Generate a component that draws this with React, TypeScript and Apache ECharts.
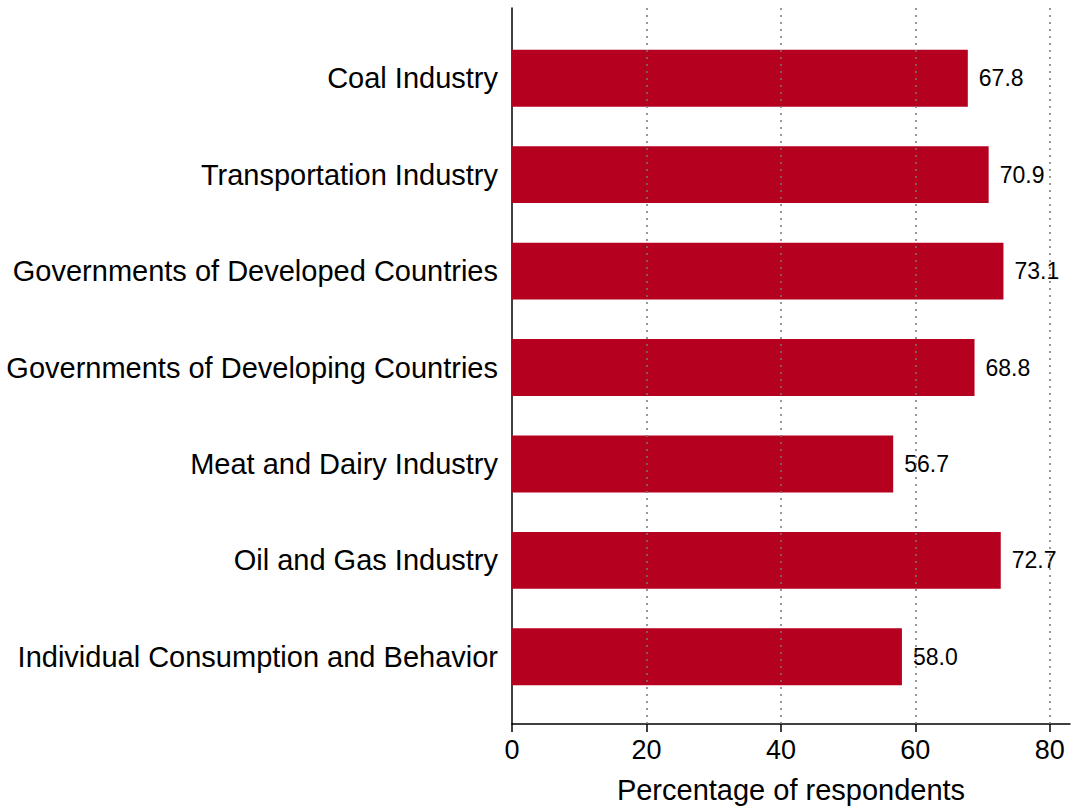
import React, { useEffect, useRef } from "react";
import * as echarts from "echarts";

const categories = [
  "Coal Industry",
  "Transportation Industry",
  "Governments of Developed Countries",
  "Governments of Developing Countries",
  "Meat and Dairy Industry",
  "Oil and Gas Industry",
  "Individual Consumption and Behavior",
];
const values = [67.8, 70.9, 73.1, 68.8, 56.7, 72.7, 58.0];
const tickValues = [0, 20, 40, 60, 80];
const gridValues = [20, 40, 60, 80];
const axisTitle = "Percentage of respondents";

const FONT = "Liberation Sans, Arial, Helvetica, sans-serif";

export default function App() {
  const ref = useRef<HTMLDivElement>(null);
  useEffect(() => {
    if (!ref.current) return;
    const chart = echarts.init(ref.current, null, { renderer: "svg" });
    const xMax = 83;
    chart.setOption({
      animation: false,
      backgroundColor: "#ffffff",
      textStyle: { fontFamily: FONT },
      grid: [
        { left: 512, right: 3, top: 8, bottom: 82, containLabel: false },
        { left: 512, right: 3, top: 30, bottom: 104, containLabel: false },
      ],
      xAxis: [
        {
          type: "value",
          gridIndex: 0,
          min: 0,
          max: xMax,
          axisLine: { show: true, lineStyle: { color: "#000", width: 1.5 } },
          axisTick: {
            show: true,
            length: 8,
            lineStyle: { color: "#000", width: 1.5 },
            customValues: tickValues,
          },
          axisLabel: {
            show: true,
            customValues: tickValues,
            fontSize: 27,
            color: "#000",
            margin: 12,
            fontFamily: FONT,
          },
          splitLine: { show: false },
          name: axisTitle,
          nameLocation: "middle",
          nameGap: 51,
          nameTextStyle: { fontSize: 29, color: "#000", fontFamily: FONT },
        },
        {
          type: "value",
          gridIndex: 1,
          min: 0,
          max: xMax,
          show: false,
        },
      ],
      yAxis: [
        {
          type: "value",
          gridIndex: 0,
          min: 0,
          max: 1,
          axisLine: { show: true, lineStyle: { color: "#000", width: 1.5 } },
          axisTick: { show: false },
          axisLabel: { show: false },
          splitLine: { show: false },
        },
        {
          type: "category",
          gridIndex: 1,
          inverse: true,
          data: categories,
          axisLine: { show: false },
          axisTick: { show: false },
          axisLabel: {
            fontSize: 29,
            color: "#000",
            margin: 14,
            fontFamily: FONT,
          },
        },
      ],
      series: [
        {
          type: "line",
          xAxisIndex: 0,
          yAxisIndex: 0,
          data: [],
          markLine: {
            silent: true,
            symbol: "none",
            label: { show: false },
            lineStyle: { color: "#777", type: [2, 5], width: 1.5 },
            data: gridValues.map((v) => ({ xAxis: v })),
          },
        },
        {
          type: "bar",
          xAxisIndex: 1,
          yAxisIndex: 1,
          data: values,
          barCategoryGap: "41%",
          itemStyle: { color: "#b5001f" },
          label: {
            show: true,
            position: "right",
            distance: 11,
            fontSize: 23,
            color: "#000",
            fontFamily: FONT,
            formatter: (p: any) => Number(p.value).toFixed(1),
          },
        },
      ],
    });
    return () => chart.dispose();
  }, []);
  return <div ref={ref} style={{ width: 1073, height: 809, position: "absolute", left: 0, top: 0 }} />;
}
